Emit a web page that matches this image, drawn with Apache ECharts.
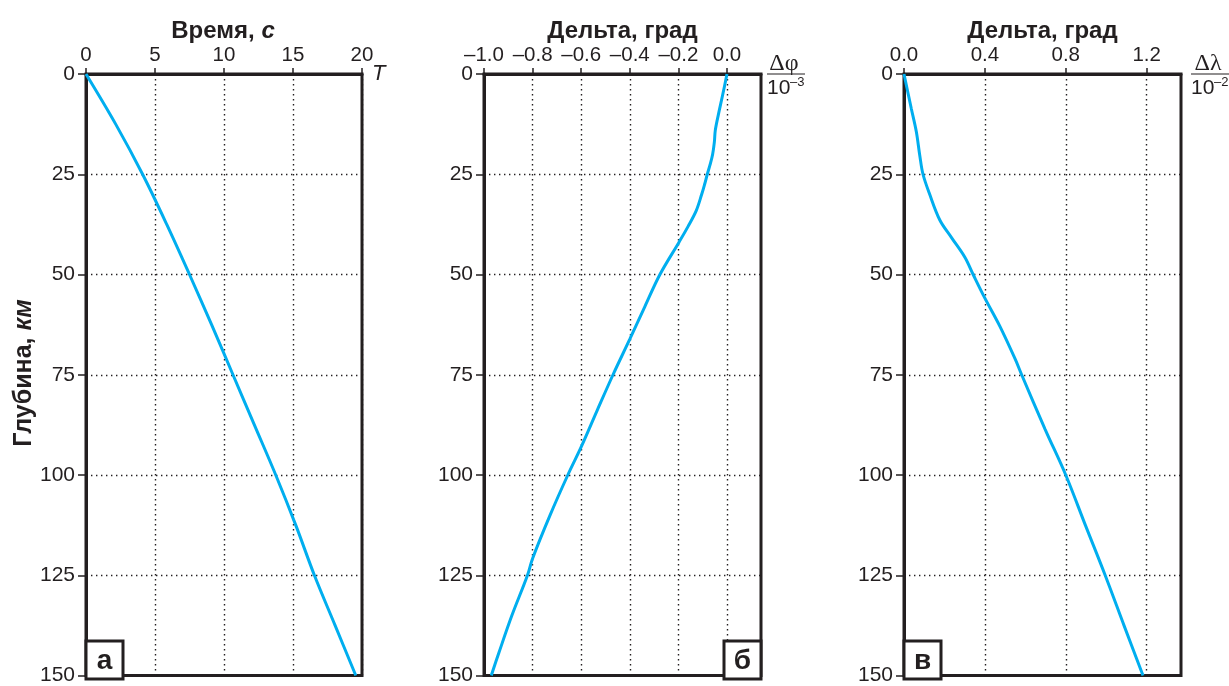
<!DOCTYPE html>
<html>
<head>
<meta charset="utf-8">
<script src="https://cdn.jsdelivr.net/npm/echarts@6/dist/echarts.min.js"></script>
<style>html,body{margin:0;padding:0;background:#fff}#c{width:1229px;height:686px}</style>
</head>
<body>
<div id="c"></div>
<script>
// ---- data ----
const depthTicks = [0, 25, 50, 75, 100, 125, 150];
const xTicksA = [0, 5, 10, 15, 20];
const xTicksB = [-1.0, -0.8, -0.6, -0.4, -0.2, 0.0];
const xTicksC = [0.0, 0.4, 0.8, 1.2];

const depthA = [0, 12.5, 25, 37.5, 50, 62.5, 75, 87.5, 100, 112.5, 125, 137.5, 150];
const timeA  = [0, 2.15, 4.1, 5.85, 7.5, 9.1, 10.65, 12.2, 13.75, 15.2, 16.55, 18.05, 19.55];

const depthB = [0, 5, 10, 14, 17, 20, 22.5, 25, 27.5, 30, 34, 38, 42, 50, 58, 66, 75, 84, 93, 100, 110, 120.8, 125, 135, 144.2, 150];
const deltaPhi = [0, -0.017, -0.035, -0.048, -0.052, -0.059, -0.069, -0.081, -0.092, -0.104, -0.126, -0.16, -0.198, -0.276, -0.338, -0.399, -0.469, -0.535, -0.6, -0.655, -0.728, -0.8, -0.821, -0.885, -0.938, -0.97];

const depthC = [0, 8.6, 14.4, 20.3, 25, 30, 36.4, 40.8, 45.7, 50, 55.9, 63, 71, 75, 88.6, 100, 112.5, 125, 137.5, 150];
const deltaLambda = [0, 0.036, 0.061, 0.078, 0.094, 0.127, 0.177, 0.235, 0.301, 0.342, 0.4, 0.475, 0.549, 0.582, 0.698, 0.8, 0.897, 0.995, 1.088, 1.182];

// ---- layout / style ----
const FONT = "'Liberation Sans', Arial, sans-serif";
const INK = '#231f20';
const LINE = '#00aeef';
const TOP = 74, H = 605;
const grids = [
  {left: 86, top: TOP, width: 276, height: H},
  {left: 484, top: TOP, width: 277, height: H},
  {left: 904, top: TOP, width: 277, height: H}
];
const dotted = {color: INK, width: 1.4, type: [1.4, 3.6]};
function fmtSigned(v) { const s = Math.abs(v).toFixed(1); return (v < -1e-9 ? '–' : '') + s; }

function xAxis(i, min, max, interval, ticks, fmt) {
  return {
    type: 'value', gridIndex: i, position: 'top', min, max, interval,
    axisLine: {show: true, onZero: false, lineStyle: {color: INK, width: 3}},
    axisTick: {show: true, length: 6, inside: false, customValues: ticks, lineStyle: {color: INK, width: 1.5}},
    axisLabel: {show: true, customValues: ticks, margin: 8, color: INK, fontSize: 20.5, fontFamily: FONT, formatter: fmt},
    splitLine: {show: true, lineStyle: dotted}
  };
}
function yAxis(i) {
  return {
    type: 'value', gridIndex: i, inverse: true, min: 0, max: 150, interval: 25,
    axisLine: {show: true, onZero: false, lineStyle: {color: INK, width: 3}},
    axisTick: {show: true, length: 8, lineStyle: {color: INK, width: 1.5}},
    axisLabel: {show: true, margin: 11, color: INK, fontSize: 21, fontFamily: FONT},
    splitLine: {show: true, lineStyle: dotted}
  };
}
function pairs(xs, ys) { return xs.map((x, k) => [x, ys[k]]); }
function series(i, xs, ys) {
  return {type: 'line', xAxisIndex: i, yAxisIndex: i, data: pairs(xs, ys), showSymbol: false, smooth: 0.35,
    lineStyle: {color: LINE, width: 3}, z: 3, silent: true};
}
function panelTitle(cx, a, b) {
  return {text: '{b|' + a + '}' + (b ? '{bi|' + b + '}' : ''), left: cx, top: 14, textAlign: 'center',
    textStyle: {rich: {b: {fontSize: 24, fontWeight: 'bold', fontFamily: FONT, color: INK},
                       bi: {fontSize: 24, fontWeight: 'bold', fontStyle: 'italic', fontFamily: FONT, color: INK}}}};
}
function labelBox(x, y, t) {
  return [
    {type: 'rect', shape: {x: x, y: y, width: 37, height: 38}, style: {fill: '#fff', stroke: INK, lineWidth: 3}, z: 10},
    {type: 'text', x: x + 18.5, y: y + 20, style: {text: t, fill: INK, font: 'bold 28px ' + FONT, align: 'center', verticalAlign: 'middle'}, z: 11}
  ];
}
function fraction(x, num, sup) {
  return [
    {type: 'text', x: x + 17, y: 64, style: {text: num, fill: INK, font: '24px "Liberation Serif", "Times New Roman", serif', align: 'center', verticalAlign: 'middle'}},
    {type: 'line', shape: {x1: x, y1: 74, x2: x + 38, y2: 74}, style: {stroke: INK, lineWidth: 1.2}},
    {type: 'text', x: x, y: 88, style: {text: '10', fill: INK, font: '21px ' + FONT, align: 'left', verticalAlign: 'middle'}},
    {type: 'text', x: x + 23, y: 82, style: {text: sup, fill: INK, font: '13px ' + FONT, align: 'left', verticalAlign: 'middle'}}
  ];
}

const chart = echarts.init(document.getElementById('c'), null, {renderer: 'canvas'});
chart.setOption({
  animation: false,
  backgroundColor: '#fff',
  title: [
    panelTitle(grids[0].left + grids[0].width / 2 - 6, 'Время, ', 'с'),
    panelTitle(grids[1].left + grids[1].width / 2 - 5, 'Дельта, град', ''),
    panelTitle(grids[2].left + grids[2].width / 2 - 5, 'Дельта, град', '')
  ],
  grid: grids.map(g => Object.assign({show: true, borderColor: INK, borderWidth: 3, backgroundColor: 'transparent', containLabel: false}, g)),
  xAxis: [
    xAxis(0, 0, 20, 5, xTicksA, v => String(v)),
    xAxis(1, -1, 0.14, 0.2, xTicksB, fmtSigned),
    xAxis(2, 0, 1.37, 0.4, xTicksC, v => v.toFixed(1))
  ],
  yAxis: [yAxis(0), yAxis(1), yAxis(2)],
  series: [series(0, timeA, depthA), series(1, deltaPhi, depthB), series(2, deltaLambda, depthC)],
  graphic: [
    {type: 'text', x: 24, y: 373, rotation: Math.PI / 2,
     style: {text: '{b|Глубина, }{bi|км}', align: 'center', verticalAlign: 'middle',
             rich: {b: {fontSize: 25, fontWeight: 'bold', fontFamily: FONT, fill: INK, color: INK},
                    bi: {fontSize: 25, fontWeight: 'bold', fontStyle: 'italic', fontFamily: FONT, fill: INK, color: INK}}}},
    {type: 'text', x: 372, y: 74, style: {text: 'T', fill: INK, font: 'italic 22px ' + FONT, align: 'left', verticalAlign: 'middle'}},
    ...fraction(767, 'Δφ', '–3'),
    ...fraction(1191, 'Δλ', '–2'),
    ...labelBox(grids[0].left, TOP + H - 38, 'а'),
    ...labelBox(grids[1].left + grids[1].width - 37, TOP + H - 38, 'б'),
    ...labelBox(grids[2].left, TOP + H - 38, 'в')
  ]
});
</script>
</body>
</html>
